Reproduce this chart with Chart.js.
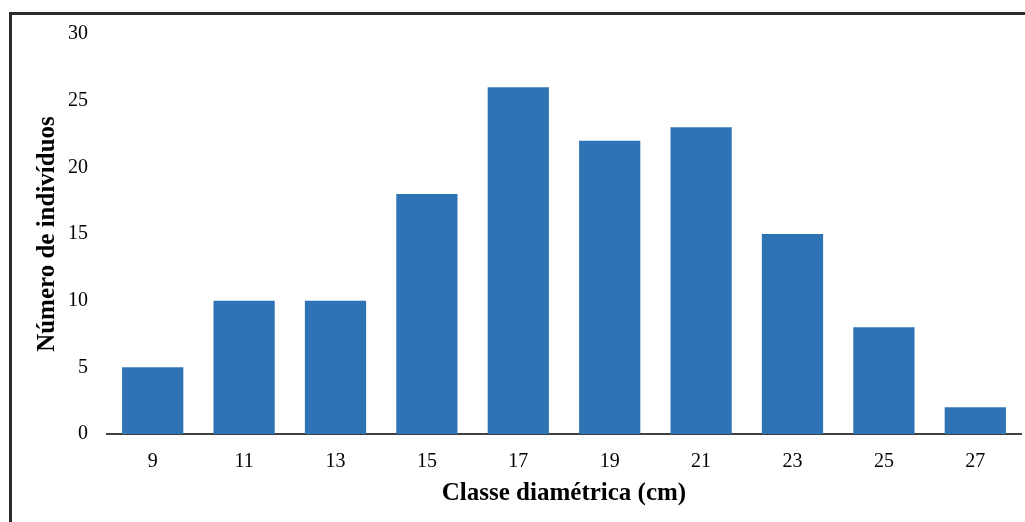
<!DOCTYPE html>
<html>
<head>
<meta charset="utf-8">
<script src="https://cdn.jsdelivr.net/npm/chart.js@4"></script>
<style>
  html, body { margin: 0; padding: 0; background: #fff; }
  #wrap { width: 1025px; height: 522px; position: relative; }
</style>
</head>
<body>
<div id="wrap"><canvas id="c" width="1025" height="522"></canvas></div>
<script>
// Diameter classes (cm) and number of individuals per class
const classes = ['9', '11', '13', '15', '17', '19', '21', '23', '25', '27'];
const individuals = [5, 10, 10, 18, 26, 22, 23, 15, 8, 2];
const yTicks = [0, 5, 10, 15, 20, 25, 30];

const serif = '"Liberation Serif", "Times New Roman", serif';

// Frame drawn around the figure (left and top edges)
const framePlugin = {
  id: 'frame',
  afterDraw(chart) {
    const ctx = chart.ctx;
    ctx.save();
    ctx.strokeStyle = '#2b2b2b';
    ctx.lineWidth = 3;
    ctx.beginPath();
    ctx.moveTo(10.5, chart.height);
    ctx.lineTo(10.5, 13.5);
    ctx.lineTo(chart.width, 13.5);
    ctx.stroke();
    ctx.restore();
  }
};

new Chart(document.getElementById('c'), {
  type: 'bar',
  data: {
    labels: classes,
    datasets: [{
      data: individuals,
      backgroundColor: '#2E74B5',
      borderWidth: 0,
      categoryPercentage: 0.67,
      barPercentage: 1.0
    }]
  },
  options: {
    responsive: false,
    animation: false,
    layout: { padding: { left: 0, top: 34, right: 4, bottom: 0 } },
    plugins: { legend: { display: false }, tooltip: { enabled: false } },
    scales: {
      x: {
        grid: { display: false, drawTicks: false },
        border: { display: true, color: '#404040', width: 2 },
        ticks: { color: '#000', font: { family: serif, size: 20 }, padding: 16 },
        title: {
          display: true,
          text: 'Classe diamétrica (cm)',
          color: '#000',
          font: { family: serif, size: 25, weight: 'bold' },
          padding: { top: 0, bottom: 13 }
        },
        afterFit(scale) { scale.height = 88; }
      },
      y: {
        min: 0,
        max: 30,
        afterBuildTicks(scale) { scale.ticks = yTicks.map(v => ({ value: v })); },
        grid: { display: false, drawTicks: false },
        border: { display: false },
        ticks: { color: '#000', font: { family: serif, size: 20 }, padding: 19 },
        title: {
          display: true,
          text: 'Número de indivíduos',
          color: '#000',
          font: { family: serif, size: 25, weight: 'bold' },
          padding: { top: 33, bottom: 0 }
        },
        afterFit(scale) { scale.width = 107; }
      }
    }
  },
  plugins: [framePlugin]
});
</script>
</body>
</html>
